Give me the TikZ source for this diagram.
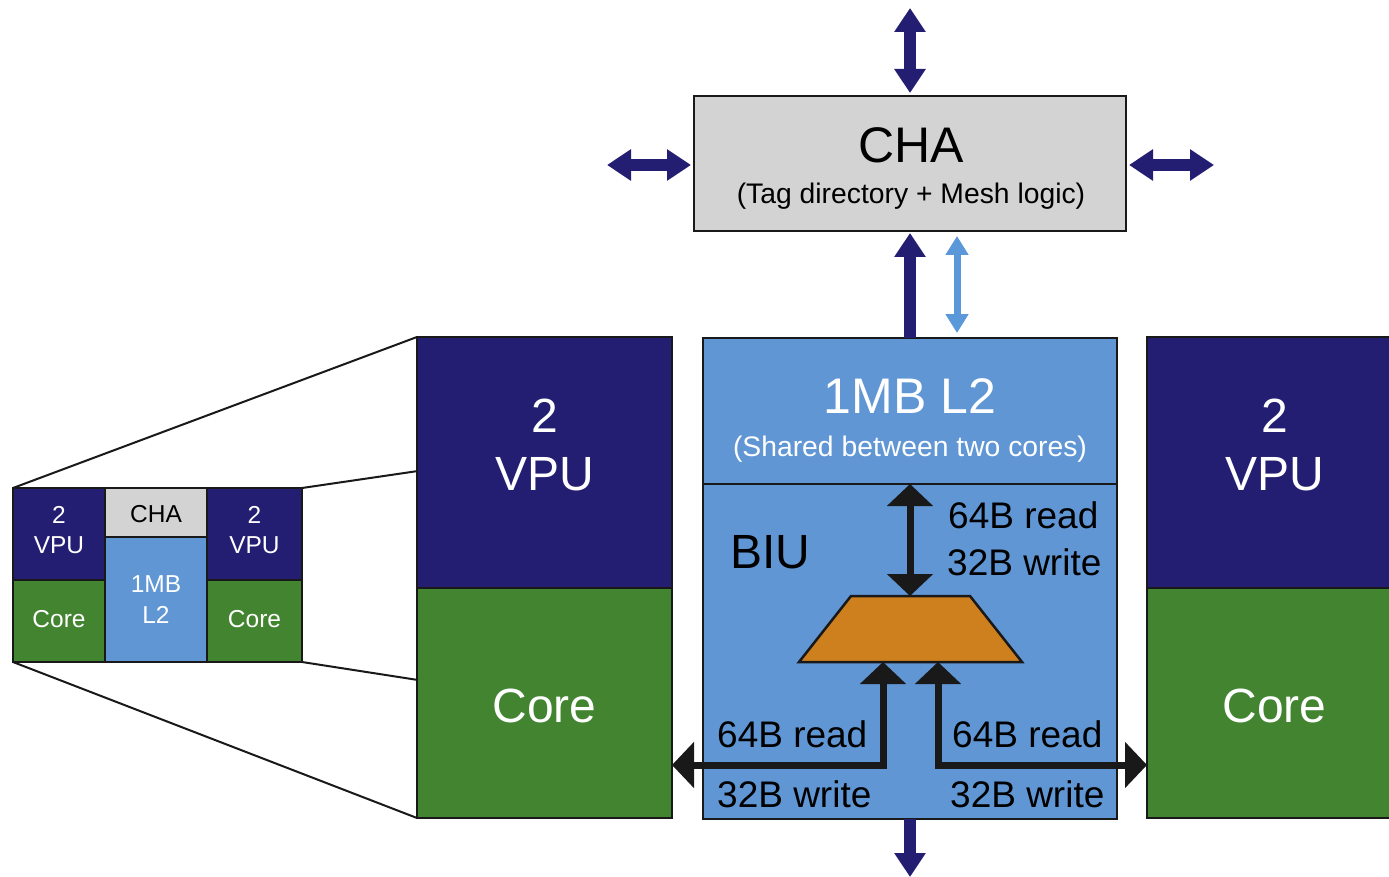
\documentclass[tikz,border=0pt]{standalone}
\usepackage{fontspec}
\setmainfont{Liberation Sans}
\usetikzlibrary{arrows.meta,calc,positioning}
\definecolor{vpuNavy}{RGB}{36,30,115}
\definecolor{coreGreen}{RGB}{66,132,48}
\definecolor{ltwoBlue}{RGB}{96,150,212}
\definecolor{chaGray}{RGB}{211,211,211}
\definecolor{muxOrange}{RGB}{207,128,30}
\definecolor{linkBlue}{RGB}{91,152,218}
\tikzset{
  tileBox/.style={draw=black!90, line width=2.5pt, inner sep=0pt, outer sep=0pt},
  vpuBox/.style={tileBox, fill=vpuNavy},
  coreBox/.style={tileBox, fill=coreGreen},
  ltwoBox/.style={tileBox, fill=ltwoBlue},
  chaBox/.style={tileBox, fill=chaGray},
  muxBox/.style={draw=black!90, line width=2.5pt, line join=miter, fill=muxOrange},
  zoomLine/.style={line width=2pt, draw=black!90},
  meshArrow/.style={draw=vpuNavy, line width=11.5pt, >={Triangle[width=30pt,length=24pt]}},
  linkArrow/.style={draw=linkBlue, line width=7pt, >={Triangle[width=22pt,length=19pt]}},
  busArrow/.style={draw=black!90, line width=7pt, line join=miter, >={Triangle[width=45pt,length=22pt]}},
  txtHuge/.style={font=\fontsize{50}{60}\selectfont, inner sep=0pt, anchor=base},
  txtBig/.style={font=\fontsize{48}{58}\selectfont, inner sep=0pt, anchor=base},
  txtMid/.style={font=\fontsize{37}{44}\selectfont, inner sep=0pt, anchor=base west},
  txtSub/.style={font=\fontsize{28.3}{34}\selectfont, inner sep=0pt, anchor=base},
  txtSmall/.style={font=\fontsize{24.5}{29}\selectfont, inner sep=0pt, anchor=base}
}
% one core tile: 2 VPU above, core below
\newcommand{\BigTile}[2]{%
  \node[vpuBox, minimum width=255, minimum height=251, anchor=north west] (vpu#1) at (#2,337) {};
  \node[coreBox, minimum width=255, minimum height=230, anchor=north west] (core#1) at (vpu#1.south west) {};
  \node[txtBig, text=white] (two#1) at ($(vpu#1.north)+(0,95)$) {2};
  \node[txtBig, text=white] (vpuTxt#1) at ($(vpu#1.north)+(0,153)$) {VPU};
  \node[txtBig, text=white] (coreTxt#1) at ($(core#1.north)+(0,134)$) {Core};
}

\begin{document}
\begin{tikzpicture}[x=1pt,y=-1pt]
  \useasboundingbox (0,0) rectangle (1389,877);
  % small tile overview
  \node[vpuBox, minimum width=92, minimum height=92, anchor=north west] (svpuL) at (13,488) {};
  \node[coreBox, minimum width=92, minimum height=82, anchor=north west] (scoreL) at (svpuL.south west) {};
  \node[chaBox, minimum width=102, minimum height=49, anchor=north west] (scha) at (svpuL.north east) {};
  \node[ltwoBox, minimum width=102, minimum height=125, anchor=north west] (sltwo) at (scha.south west) {};
  \node[vpuBox, minimum width=95, minimum height=92, anchor=north west] (svpuR) at (scha.north east) {};
  \node[coreBox, minimum width=95, minimum height=82, anchor=north west] (scoreR) at (svpuR.south west) {};
  \foreach \side in {L,R}{
    \node[txtSmall, text=white] (stwo\side) at ($(svpu\side.north)+(0,35)$) {2};
    \node[txtSmall, text=white] (svpuTxt\side) at ($(svpu\side.north)+(0,65)$) {VPU};
    \node[txtSmall, text=white] (scoreTxt\side) at ($(score\side.north)+(0,47)$) {Core};
  }
  \node[txtSmall] (schaTxt) at ($(scha.north)+(0,34)$) {CHA};
  \node[txtSmall, text=white] (smbTxt) at ($(sltwo.north)+(0,55)$) {1MB};
  \node[txtSmall, text=white] (sltTxt) at ($(sltwo.north)+(0,86)$) {L2};

  % the two big tiles
  \BigTile{L}{417}
  \BigTile{R}{1147}

  % zoom lines
  \coordinate (zoomA) at (418,471);
  \coordinate (zoomB) at (418,680);
  \draw[zoomLine] (svpuL.north west) -- (vpuL.north west);
  \draw[zoomLine] (svpuR.north east) -- (zoomA);
  \draw[zoomLine] (scoreR.south east) -- (zoomB);
  \draw[zoomLine] (scoreL.south west) -- (coreL.south west);

  % CHA
  \node[chaBox, minimum width=432, minimum height=135] (cha) at (910,163.5) {};
  \node[txtHuge] (chaTxt) at (911,163) {CHA};
  \node[txtSub] (chaSub) at (911,204) {(Tag directory + Mesh logic)};

  % shared L2 and BIU
  \node[ltwoBox, minimum width=414, minimum height=146, anchor=north] (ltwo) at (910,338) {};
  \node[ltwoBox, minimum width=414, minimum height=335, anchor=north] (biu) at (ltwo.south) {};
  \node[txtHuge, text=white] (ltwoTxt) at (910,413) {1MB L2};
  \node[txtSub, text=white] (ltwoSub) at (910,456) {(Shared between two cores)};
  \node[txtBig, anchor=base west] (biuTxt) at (730,568) {BIU};
  % mux trapezoid
  \coordinate (muxTop) at (910,596);
  \coordinate (muxBot) at (910,662);
  \draw[muxBox] ($(muxBot)+(-111,0)$) -- ($(muxTop)+(-59,0)$) -- ($(muxTop)+(60,0)$)
    -- ($(muxBot)+(112,0)$) -- cycle;

  % bus widths
  \node[txtMid] (upRd) at (948,528) {64B read};
  \node[txtMid] (upWr) at (947,575) {32B write};
  \node[txtMid] (lfRd) at (717,747) {64B read};
  \node[txtMid] (lfWr) at (717,807) {32B write};
  \node[txtMid] (rtRd) at (952,747) {64B read};
  \node[txtMid] (rtWr) at (950,807) {32B write};

  % buses inside the BIU
  \coordinate (tapL) at (883,765);
  \coordinate (tapR) at (938,765);
  \draw[busArrow,<->] (biu.north) -- (muxTop);
  \draw[busArrow,<->] (coreL.east |- tapL) -- (tapL) -- (muxBot -| tapL);
  \draw[busArrow,<->] (coreR.west |- tapR) -- (tapR) -- (muxBot -| tapR);

  % mesh links
  \coordinate (meshN) at (910,8);
  \coordinate (meshW) at (607,165);
  \coordinate (meshE) at (1214,165);
  \coordinate (meshS) at (910,877);
  \draw[meshArrow,<->] (meshN) -- ($(cha.north)+(0,-3)$);
  \draw[meshArrow,<->] (meshW) -- ($(meshW -| cha.west)+(-3,0)$);
  \draw[meshArrow,<->] (meshE) -- ($(meshE -| cha.east)+(3,0)$);
  \draw[meshArrow,->] (ltwo.north) -- ($(cha.south)+(0,2)$);
  \draw[meshArrow,->] (biu.south) -- (meshS);
  \draw[linkArrow,<->] ($(ltwo.north)+(47,-5)$) -- ($(cha.south)+(47,5)$);
\end{tikzpicture}
\end{document}
